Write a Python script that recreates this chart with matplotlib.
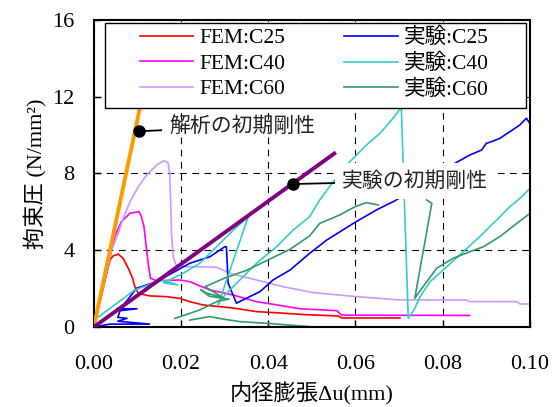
import numpy as np
import matplotlib
matplotlib.use('Agg')
import matplotlib.pyplot as plt
from matplotlib.patches import Rectangle

plt.rcParams['font.family'] = ['Liberation Serif', 'Noto Sans CJK JP']

nan = np.nan

# FEM curves (analysis)
fem_c25_x = [0.0, 0.0037, 0.0044, 0.0056, 0.0067, 0.0079, 0.0089, 0.0094, 0.0102, 0.0128,
             0.0167, 0.0197, 0.0220, 0.0250, 0.0319, 0.0373, 0.0427, 0.0480, 0.0560, 0.0569, 0.0702]
fem_c25_y = [0.0, 3.49, 3.70, 3.80, 3.58, 3.06, 2.54, 2.10, 1.75, 1.62,
             1.58, 1.49, 1.32, 1.15, 0.99, 0.80, 0.73, 0.65, 0.57, 0.47, 0.47]

fem_c40_x = [0.0, 0.0048, 0.0063, 0.0083, 0.0104, 0.0109, 0.0115, 0.0121, 0.0125, 0.0130,
             0.0144, 0.0197, 0.0220, 0.0266, 0.0319, 0.0373, 0.0420, 0.0473, 0.0557, 0.0568, 0.0862]
fem_c40_y = [0.0, 4.71, 5.49, 5.93, 6.01, 5.75, 5.23, 4.01, 3.23, 2.54,
             2.41, 2.45, 2.36, 1.93, 1.67, 1.32, 1.15, 0.95, 0.85, 0.62, 0.60]

fem_c60_x = [0.0, 0.0041, 0.0056, 0.0067, 0.0083, 0.0102, 0.0121, 0.0144, 0.0161, 0.0170,
             0.0174, 0.0176, 0.0178, 0.0182, 0.0188, 0.0213, 0.0243, 0.0282, 0.0312, 0.0373,
             0.0434, 0.0503, 0.0603, 0.0702, 0.0855, 0.0862, 0.0970, 0.0977, 0.1000]
fem_c60_y = [0.0, 4.01, 4.88, 5.66, 6.53, 7.31, 7.92, 8.44, 8.67, 8.56,
             8.00, 6.62, 4.88, 3.66, 3.23, 3.14, 3.14, 3.11, 2.80, 2.45,
             2.10, 1.79, 1.58, 1.41, 1.41, 1.32, 1.32, 1.20, 1.20]

# experiment curves
exp_c25_x = [0.0, 0.0037, 0.0128, 0.0055, 0.0076, 0.0055, 0.0060, 0.0099, 0.0053, 0.0065,
             0.0098, 0.0144, 0.0220, 0.0266, 0.0300, 0.0304, 0.0308, 0.0327, 0.0350, 0.0381,
             0.0411, 0.0450, 0.0495, 0.0534, 0.0595, 0.0648, 0.0690, 0.0828, 0.0862, 0.0889,
             0.0900, 0.0912, 0.0931, 0.0977, 0.0992, 0.1000]
exp_c25_y = [0.0, 0.15, 0.15, 0.30, 0.45, 0.50, 0.85, 0.95, 0.95, 1.05,
             2.02, 2.36, 3.32, 3.66, 4.18, 4.18, 2.28, 1.24, 1.50, 1.84,
             2.45, 2.97, 3.84, 4.53, 5.40, 6.10, 6.57, 8.53, 8.96, 9.22,
             9.57, 9.66, 9.83, 10.53, 10.88, 10.60]

exp_c40_x = [0.0, 0.0006, 0.0094, 0.0156, 0.0193, 0.0160, 0.0205, 0.0243, 0.0320, 0.0354,
             0.0285, 0.0290, 0.0312, 0.0373, 0.0419, 0.0457, 0.0495, 0.0518, 0.0549, 0.0587,
             0.0625, 0.0656, 0.0683, 0.0705, 0.0721, 0.0736, 0.0748, 0.0771, 0.0801, 0.0847,
             0.0885, 0.0924, 0.0954, 0.0977, 0.1000]
exp_c40_y = [0.0, 0.45, 1.93, 2.45, 2.19, 2.30, 2.80, 3.32, 5.05, 5.75,
             1.15, 1.40, 1.93, 3.32, 4.18, 5.05, 5.75, 6.62, 7.57, 8.61,
             9.48, 10.09, 10.79, 11.45, 0.45, 0.97, 1.58, 2.36, 2.97, 3.92,
             4.71, 5.58, 6.27, 6.70, 7.22]

exp_c60_x = [0.0, 0.1000, nan,
             0.0186, 0.0220, 0.0243, 0.0266, 0.0285, 0.0310, 0.0265, 0.0245, 0.0260, 0.0295,
             0.0255, 0.0300, 0.0350, 0.0400, 0.0450, 0.0495, 0.0518, 0.0564, 0.0599, 0.0625,
             0.0652, nan,
             0.0220, 0.0266, 0.0300, 0.0335, 0.0396, 0.0495, nan,
             0.0763, 0.0775, 0.0736, 0.0755, 0.0786, 0.0824, 0.0862, 0.0893, 0.0931, 0.0970, 0.1000]
exp_c60_y = [0.0, 0.0, nan,
             0.45, 0.71, 0.89, 1.15, 1.35, 1.45, 1.60, 1.95, 1.75, 1.55,
             2.10, 2.55, 2.95, 3.50, 4.05, 4.75, 5.40, 5.84, 6.27, 6.48,
             6.36, nan,
             0.36, 0.54, 0.40, 0.28, 0.19, 0.02, nan,
             6.62, 6.45, 1.50, 2.10, 3.06, 3.58, 3.92, 4.18, 4.71, 5.40, 5.92]

# initial stiffness lines (visible part, up to the legend box) and marker points
ana_k_x = [0.0, 0.0110]
ana_k_y = [0.0, 11.9]
exp_k_x = [0.0, 0.0555]
exp_k_y = [0.0, 9.1]
ana_dot = (0.0104, 10.2)
ana_text = (0.0174, 10.45)
exp_dot = (0.0456, 7.45)
exp_text = (0.0569, 7.6)

xticks = [0.00, 0.02, 0.04, 0.06, 0.08, 0.10]
yticks = [0, 4, 8, 12, 16]

fig = plt.figure(figsize=(5.52, 4.07), dpi=100)
ax = fig.add_axes([0.170, 0.1966, 0.790, 0.7543])

lw = 1.2
h1, = ax.plot(fem_c25_x, fem_c25_y, color='#FF0000', lw=lw, label='FEM:C25', zorder=2)
h2, = ax.plot(fem_c40_x, fem_c40_y, color='#FF00FF', lw=lw, label='FEM:C40', zorder=2)
h3, = ax.plot(fem_c60_x, fem_c60_y, color='#CC99FF', lw=lw, label='FEM:C60', zorder=2)
h4, = ax.plot(exp_c25_x, exp_c25_y, color='#0000FF', lw=lw, label='実験:C25', zorder=2)
h5, = ax.plot(exp_c40_x, exp_c40_y, color='#33CCCC', lw=lw, label='実験:C40', zorder=2)
h6, = ax.plot(exp_c60_x, exp_c60_y, color='#339966', lw=lw, label='実験:C60', zorder=2)
ax.plot(ana_k_x, ana_k_y, color='#FF9900', lw=2.8, zorder=3, solid_capstyle='butt')
ax.plot(exp_k_x, exp_k_y, color='#800080', lw=2.8, zorder=3, solid_capstyle='butt')

# leader dots + labels
ax.plot(*ana_dot, 'o', color='k', ms=8, zorder=4)
ax.plot(*exp_dot, 'o', color='k', ms=8, zorder=4)
ax.annotate('解析の初期剛性', xy=ana_dot, xytext=ana_text, fontsize=15,
            family=['Noto Sans CJK JP'], va='center', ha='left', color='#222222',
            arrowprops=dict(arrowstyle='-', color='k', lw=1.3, shrinkA=4, shrinkB=0),
            zorder=4)
ax.annotate('実験の初期剛性', xy=exp_dot, xytext=exp_text, fontsize=15,
            family=['Noto Sans CJK JP'], va='center', ha='left', color='#222222',
            bbox=dict(boxstyle='square,pad=0.35', fc='white', ec='none'),
            arrowprops=dict(arrowstyle='-', color='k', lw=1.3, shrinkA=0, shrinkB=0),
            zorder=4)

ax.set_xlim(0, 0.1)
ax.set_ylim(0, 16)
ax.set_xticks(xticks)
ax.set_yticks(yticks)
ax.set_xticklabels([f'{v:.2f}' for v in xticks])
ax.set_yticklabels([str(v) for v in yticks])
ax.tick_params(direction='in', length=5, width=1, labelsize=16)
ax.tick_params(axis='x', pad=20)
ax.tick_params(axis='y', pad=14)
ax.grid(True, color='k', lw=0.8, ls=(0, (6, 5)))
for s in ax.spines.values():
    s.set_linewidth(1.5)

ax.set_xlabel('内径膨張Δu(mm)', fontsize=16, labelpad=6)
ax.set_ylabel('拘束圧 (N/mm²)', fontsize=16, labelpad=4)

# legend: white framed box drawn at figure level so it sits over every curve
fig.add_artist(Rectangle((0.025, 0.713), 0.966, 0.277, transform=ax.transAxes,
                         fc='white', ec='black', lw=1.0, zorder=2))
leg = fig.legend(handles=[h1, h2, h3, h4, h5, h6], ncol=2, loc='center',
                 bbox_to_anchor=(0.506, 0.857), bbox_transform=ax.transAxes,
                 frameon=False, fontsize=15.5, handlelength=2.5, handletextpad=0.3,
                 columnspacing=2.7, labelspacing=0.25, borderpad=0.0)
leg.set_zorder(3)

fig.savefig('out.png', dpi=100)
